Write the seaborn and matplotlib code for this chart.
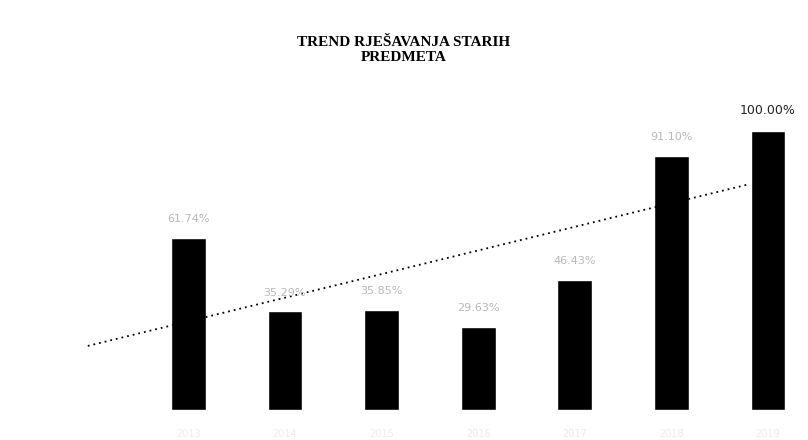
import numpy as np
import pandas as pd
import matplotlib
matplotlib.use("Agg")
import matplotlib.pyplot as plt
import seaborn as sns

# podaci (procijenjeni s grafa)
godine = ["2013", "2014", "2015", "2016", "2017", "2018", "2019"]
postotci = [61.74, 35.29, 35.85, 29.63, 46.43, 91.10, 100.00]
oznake = ["61.74%", "35.29%", "35.85%", "29.63%", "46.43%", "91.10%", "100.00%"]

df = pd.DataFrame({"godina": godine, "postotak": postotci})

sns.set_theme(style="white")
plt.rcParams["font.family"] = ["DejaVu Sans"]

fig = plt.figure(figsize=(8.08, 4.4), dpi=100)
ax = fig.add_axes([82 / 808, 30 / 440, 715 / 808, 335 / 440])

sns.barplot(data=df, x="godina", y="postotak", order=godine,
            color="black", width=0.36, saturation=1, ax=ax)

# linearni trend (točkasta linija)
x = np.arange(len(postotci))
k, b = np.polyfit(x, postotci, 1)
xt = np.array([-1.04, 5.78])
ax.plot(xt, k * xt + b, color="black", linestyle=(0, (1, 2.2)), linewidth=1.3)

# oznake vrijednosti
for i, (v, t) in enumerate(zip(postotci, oznake)):
    zadnji = i == len(postotci) - 1
    ax.text(i, v + 5, t, ha="center", va="bottom",
            fontsize=9 if zadnji else 8,
            color="#222222" if zadnji else "#b8b8b8")

ax.set_xlim(-1.1, 6.3)
ax.set_ylim(0, 120)
ax.set_xlabel("")
ax.set_ylabel("")
ax.set_yticks([])
ax.tick_params(axis="x", length=0, labelsize=7, pad=14)
for t in ax.get_xticklabels():
    t.set_color("#ececec")
sns.despine(ax=ax, left=True, bottom=True)

fig.text(0.5, 0.886, "TREND RJEŠAVANJA STARIH\nPREDMETA", ha="center", va="center",
         fontsize=11, fontweight="bold", color="black",
         family=["Liberation Serif", "DejaVu Serif"], linespacing=1.15)

fig.savefig("out.png", dpi=100, facecolor="white")
